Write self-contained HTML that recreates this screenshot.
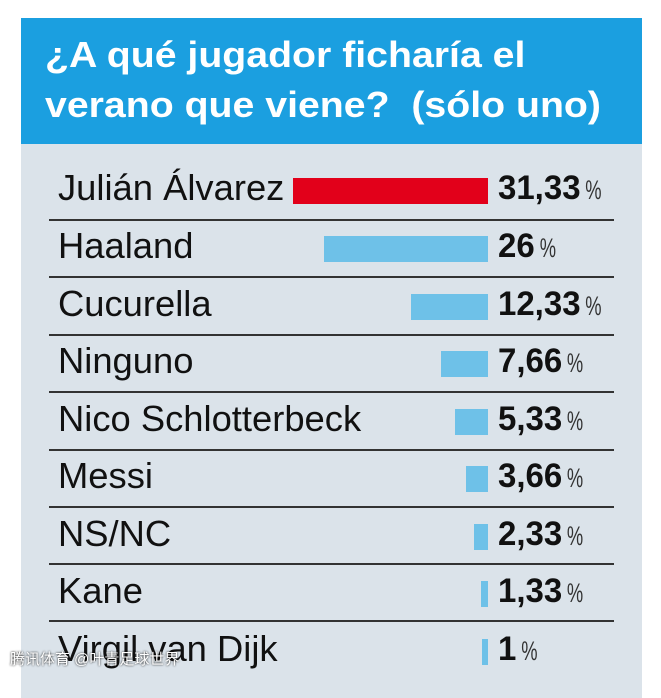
<!DOCTYPE html>
<html><head><meta charset="utf-8"><style>
body{margin:0;width:661px;height:674px;background:#fff;position:relative;overflow:hidden;font-family:"Liberation Sans",sans-serif}
.panel{position:absolute;left:21px;top:18px;width:621px;height:680px;background:#dbe3ea}
.hdr{position:absolute;left:21px;top:18px;width:621px;height:126px;background:#1b9fe0}
.t{position:absolute;left:45px;color:#fff;font-weight:bold;font-size:36px;white-space:nowrap;transform-origin:0 0;transform:scaleX(1.09)}
.lab{position:absolute;left:58px;font-size:36px;color:#111;white-space:nowrap;transform-origin:0 0;transform:scaleX(1.01)}
.bar{position:absolute;height:26px;background:#6ec1e8}
.val{position:absolute;left:498px;font-size:34px;font-weight:bold;color:#111;white-space:nowrap;transform-origin:0 0;transform:scaleX(0.97)}
.val span{display:inline-block;font-weight:normal;font-size:27px;color:#333;margin-left:5px;transform:scaleX(0.7);transform-origin:0 50%}
.ln{position:absolute;left:49px;width:565px;height:2px;background:#333}
.wm{position:absolute;left:10px;top:648px;color:#fff;font-size:15px;font-family:"Liberation Sans","Noto Sans CJK SC",sans-serif;text-shadow:0 0 2px #000}
</style></head><body>
<div class="panel"></div>
<div class="hdr"></div>
<div class="t" style="top:34px">¿A qué jugador ficharía el</div>
<div class="t" style="top:84px">verano que viene?&nbsp; (sólo uno)</div>

<div class="lab" style="top:167px">Julián Álvarez</div>
<div class="bar" style="left:293px;width:195px;top:178px;background:#e2001a"></div>
<div class="val" style="top:169px">31,33<span>%</span></div>
<div class="ln" style="top:219px"></div>

<div class="lab" style="top:225px">Haaland</div>
<div class="bar" style="left:324px;width:164px;top:236px"></div>
<div class="val" style="top:227px">26<span>%</span></div>
<div class="ln" style="top:276px"></div>

<div class="lab" style="top:283px">Cucurella</div>
<div class="bar" style="left:411px;width:77px;top:294px"></div>
<div class="val" style="top:285px">12,33<span>%</span></div>
<div class="ln" style="top:334px"></div>

<div class="lab" style="top:340px">Ninguno</div>
<div class="bar" style="left:441px;width:47px;top:351px"></div>
<div class="val" style="top:342px">7,66<span>%</span></div>
<div class="ln" style="top:391px"></div>

<div class="lab" style="top:398px">Nico Schlotterbeck</div>
<div class="bar" style="left:455px;width:33px;top:409px"></div>
<div class="val" style="top:400px">5,33<span>%</span></div>
<div class="ln" style="top:449px"></div>

<div class="lab" style="top:455px">Messi</div>
<div class="bar" style="left:466px;width:22px;top:466px"></div>
<div class="val" style="top:457px">3,66<span>%</span></div>
<div class="ln" style="top:506px"></div>

<div class="lab" style="top:513px">NS/NC</div>
<div class="bar" style="left:474px;width:14px;top:524px"></div>
<div class="val" style="top:515px">2,33<span>%</span></div>
<div class="ln" style="top:563px"></div>

<div class="lab" style="top:570px">Kane</div>
<div class="bar" style="left:481px;width:7px;top:581px"></div>
<div class="val" style="top:572px">1,33<span>%</span></div>
<div class="ln" style="top:620px"></div>

<div class="lab" style="top:628px">Virgil van Dijk</div>
<div class="bar" style="left:482px;width:6px;top:639px"></div>
<div class="val" style="top:630px">1<span>%</span></div>

<div class="wm">腾讯体育 @叶青足球世界</div>
</body></html>
